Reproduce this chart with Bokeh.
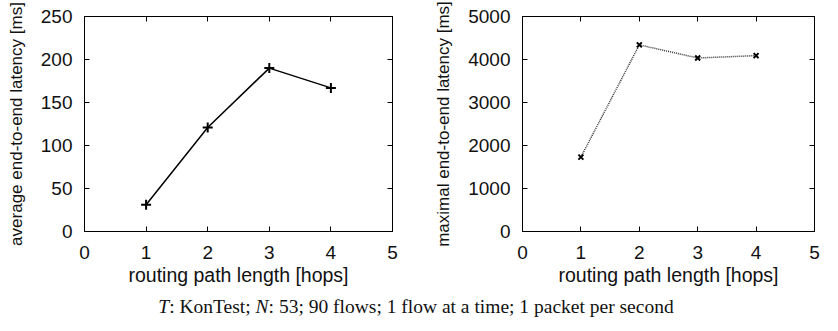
from bokeh.plotting import figure
from bokeh.models import Range1d, FixedTicker, LinearAxis, Div, CustomLabelingPolicy
from bokeh.layouts import row, column
from bokeh.embed import file_html
from bokeh.resources import INLINE

hops = [1, 2, 3, 4]
avg_latency = [31, 121, 190, 167]
max_latency = [1730, 4340, 4035, 4090]
x_ticks = [0, 1, 2, 3, 4, 5]
avg_ticks = [0, 50, 100, 150, 200, 250]
max_ticks = [0, 1000, 2000, 3000, 4000, 5000]
x_label = "routing path length [hops]"
avg_label = "average end-to-end latency [ms]"
max_label = "maximal end-to-end latency [ms]"
caption = "<i>T</i>: KonTest; <i>N</i>: 53; 90 flows; 1 flow at a time; 1 packet per second"

FONT = "Liberation Sans"
HIDE_ALL = "for (const i of indices) indices.unset(i); return indices"


def style_axis(ax, ticks, show_labels=True):
    ax.ticker = FixedTicker(ticks=ticks)
    ax.major_tick_in = 5
    ax.major_tick_out = 0
    ax.minor_tick_line_color = None
    ax.axis_line_color = "black"
    ax.major_tick_line_color = "black"
    ax.major_label_text_font = FONT
    ax.major_label_text_color = "#111111"
    ax.axis_label_text_font = FONT
    ax.axis_label_text_font_style = "normal"
    ax.axis_label_text_font_size = "19.5px"
    ax.axis_label_text_color = "#111111"
    ax.major_label_text_font_size = "19px"
    if not show_labels:
        ax.major_label_policy = CustomLabelingPolicy(code=HIDE_ALL)
        ax.major_label_text_font_size = "0px"
        ax.major_label_standoff = 0


def make_fig(yvals, yticks, ymax, ylabel, width, left, right, dashed, marker):
    p = figure(width=width, height=291, output_backend="svg", toolbar_location=None,
               x_range=Range1d(0, 5), y_range=Range1d(0, ymax),
               min_border_left=left, min_border_right=right,
               min_border_top=16, min_border_bottom=60)
    p.xgrid.visible = False
    p.ygrid.visible = False
    p.outline_line_color = "black"
    p.outline_line_width = 1
    p.background_fill_color = "white"
    p.border_fill_color = "white"
    style_axis(p.xaxis[0], x_ticks)
    style_axis(p.yaxis[0], yticks)
    p.xaxis[0].axis_label = x_label
    p.xaxis[0].axis_label_standoff = 2
    p.xaxis[0].major_label_standoff = 14
    p.yaxis[0].axis_label = ylabel
    p.yaxis[0].axis_label_text_font_size = "17px"
    p.yaxis[0].axis_label_standoff = 12
    p.yaxis[0].major_label_standoff = 12
    top = LinearAxis()
    style_axis(top, x_ticks, show_labels=False)
    p.add_layout(top, "above")
    rt = LinearAxis()
    style_axis(rt, yticks, show_labels=False)
    p.add_layout(rt, "right")
    if dashed:
        p.line(hops, yvals, line_color="#333333", line_width=1.5, line_dash="1 1")
    else:
        p.line(hops, yvals, line_color="black", line_width=1.5)
    p.scatter(hops, yvals, marker=marker, size=10 if marker == "cross" else 7,
              line_color="black", line_width=2)
    return p


p1 = make_fig(avg_latency, avg_ticks, 250, avg_label, 412, 84, 20, False, "cross")
p2 = make_fig(max_latency, max_ticks, 5000, max_label, 410, 110, 8, True, "x")

cap = Div(text=caption, width=822, height=24,
          styles={"text-align": "center", "font-family": "Liberation Serif",
                  "font-size": "19.5px", "color": "#111111", "width": "822px",
                  "line-height": "1.1"})

layout = column(row(p1, p2), cap)

open("out.html", "w").write(file_html(layout, INLINE))
